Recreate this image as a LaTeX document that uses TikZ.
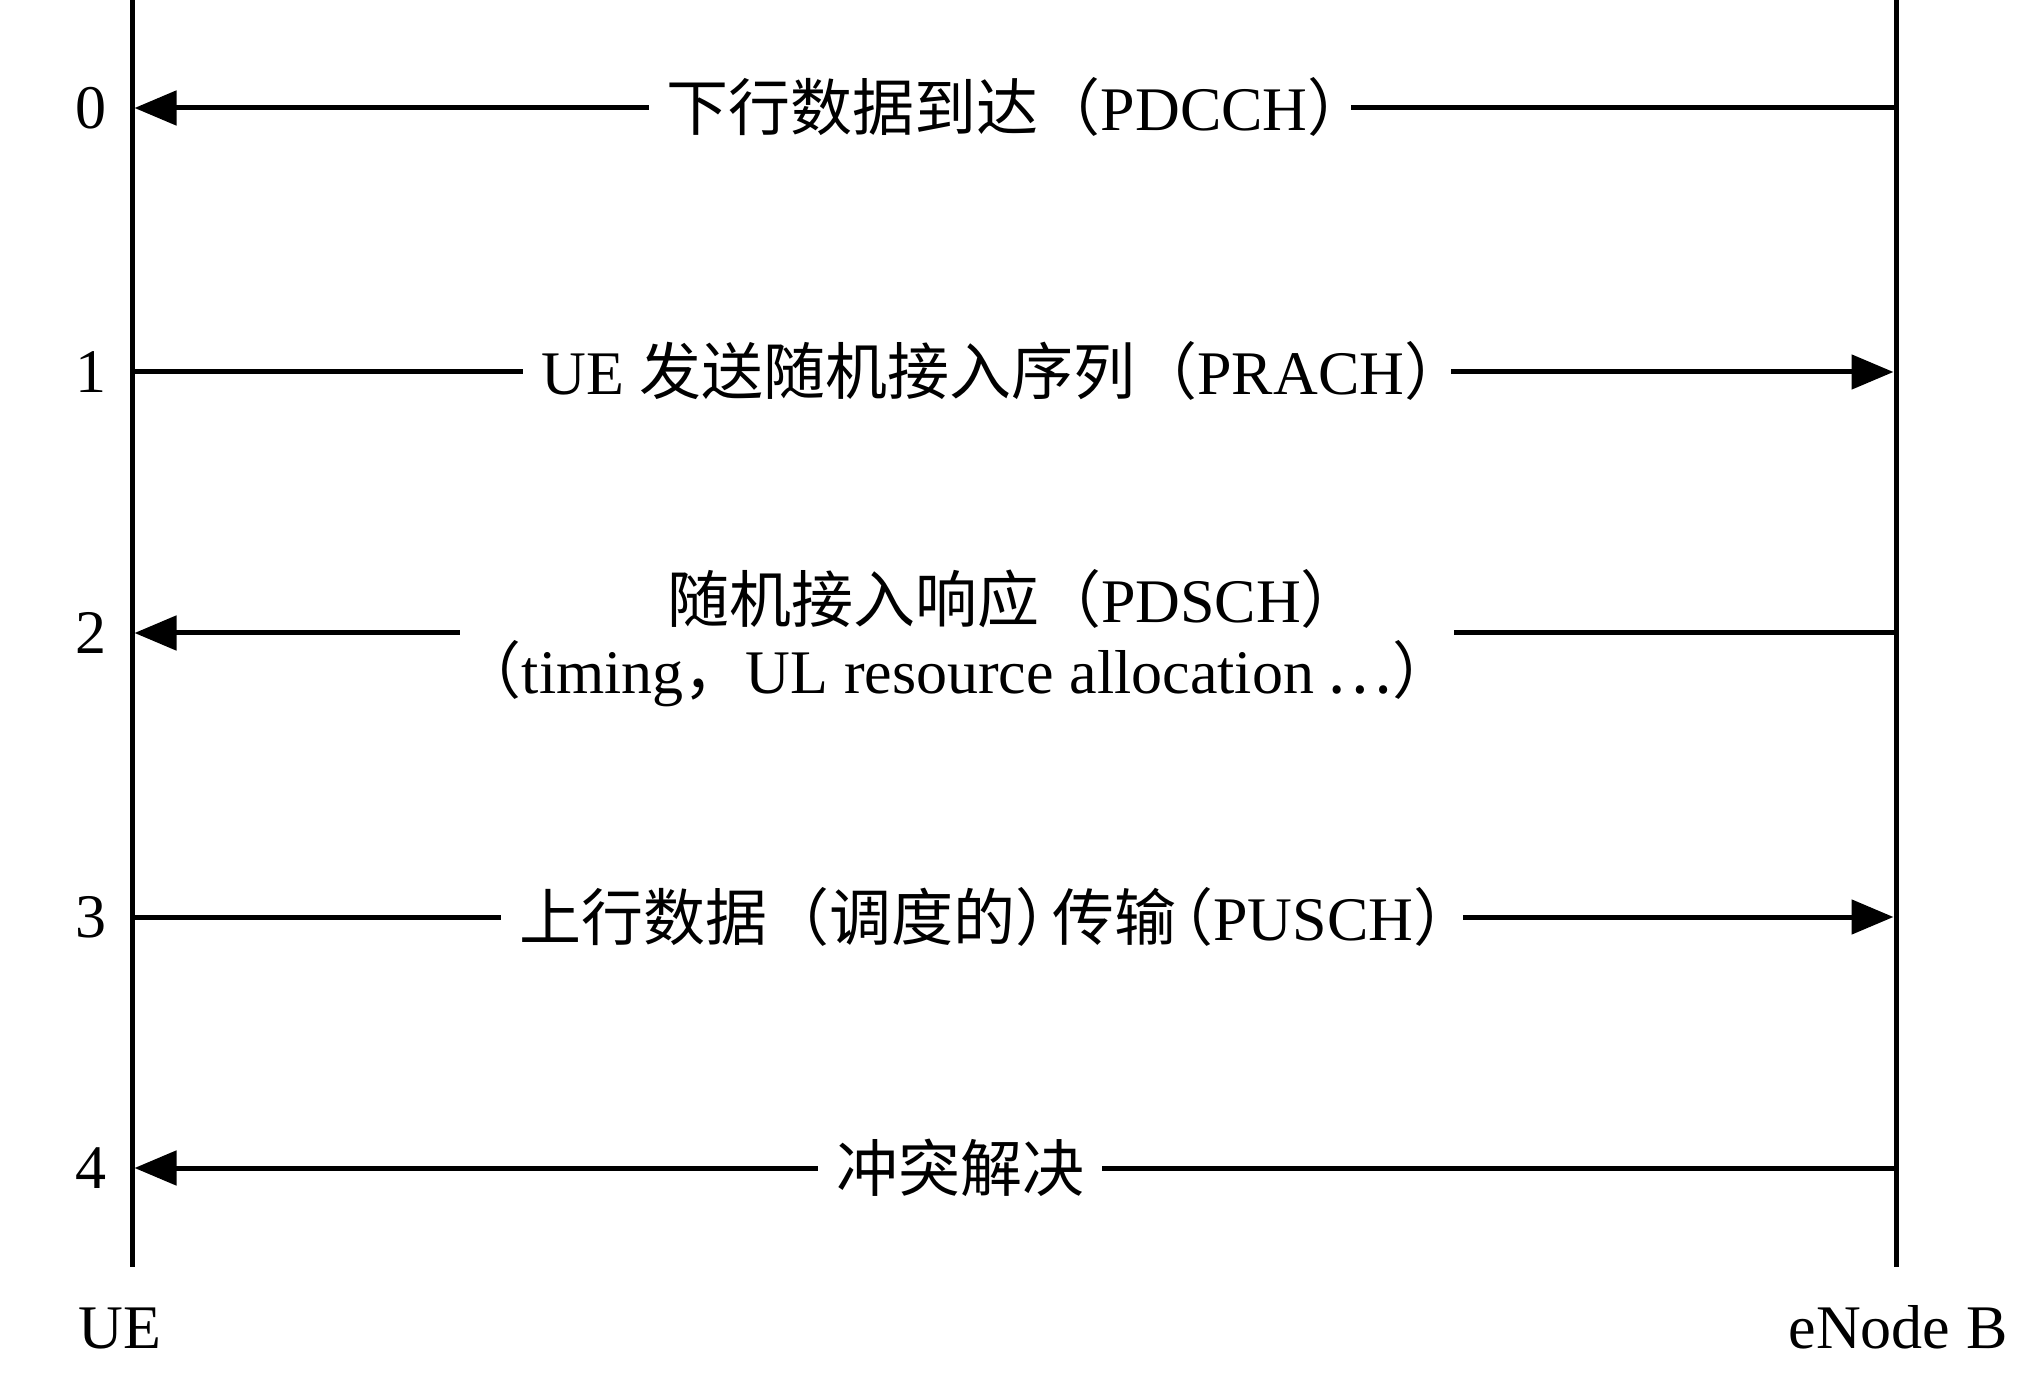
\documentclass[tikz,border=0pt]{standalone}
\usepackage{fontspec}
\setmainfont{Liberation Serif}
\newfontfamily\cjk{Noto Sans CJK SC}
\usetikzlibrary{arrows.meta}
\begin{document}
\begin{tikzpicture}[x=0.5pt,y=-0.5pt,
  life/.style={line width=2.5pt},
  msg/.style={line width=2.5pt},
  tip/.style={-{Triangle[length=21pt,width=17pt]}, shorten >=1.25pt},
  lab/.style={inner xsep=0pt, inner ysep=0pt, anchor=base, font=\fontsize{31pt}{37pt}\selectfont},
  num/.style={inner sep=0pt, font=\fontsize{31pt}{37pt}\selectfont}]
\useasboundingbox (0,0) rectangle (2026,1385);
% lifelines
\coordinate (ut) at (132,0);  \coordinate (ub) at (132,1267);
\coordinate (et) at (1896,0); \coordinate (eb) at (1896,1267);
\draw[life] (ut) -- (ub);
\draw[life] (et) -- (eb);
\node[lab] (ue)  at (120,1348) {UE};
\node[lab] (enb) at (1898,1348) {eNode B};
% message rows
\foreach \i/\y in {0/108,1/372,2/633,3/917,4/1168}{
  \coordinate (u\i) at (132,\y);
  \coordinate (e\i) at (1896,\y);
  \node[num] (n\i) at (91,\y) {\i};
}
% 0
\node[lab] (l0) at (1000,131) {\hspace*{9pt}{\cjk 下行数据到达（}PDCCH{\cjk ）}\kern-0.3em};
\draw[msg,tip] (l0.west |- u0) -- (u0);
\draw[msg] (e0) -- (l0.east |- e0);
% 1
\node[lab] (l1) at (987,395) {\hspace*{9pt}UE {\cjk 发送随机接入序列（}PRACH{\cjk ）}\kern-0.25em};
\draw[msg] (u1) -- (l1.west |- u1);
\draw[msg,tip] (l1.east |- e1) -- (e1);
% 2
\node[lab] (l2a) at (1015,623) {{\cjk 随机接入响应（}PDSCH{\cjk ）}};
\node[lab] (l2b) at (957,694) {{\cjk （}timing{\cjk ，}UL resource allocation\kern0.2em{\cjk …）}};
\draw[msg,tip] (l2b.west |- u2) -- (u2);
\draw[msg] (e2) -- (l2b.east |- e2);
% 3
\node[lab] (l3) at (982,940) {\hspace*{9pt}{\cjk 上行数据（调度的）\kern-0.4em 传输\kern-0.4em（}PUSCH{\cjk ）}\kern-0.2em};
\draw[msg] (u3) -- (l3.west |- u3);
\draw[msg,tip] (l3.east |- e3) -- (e3);
% 4
\node[lab] (l4) at (960,1191) {\hspace*{9pt}{\cjk 冲突解决}\hspace*{9pt}};
\draw[msg,tip] (l4.west |- u4) -- (u4);
\draw[msg] (e4) -- (l4.east |- e4);
\end{tikzpicture}
\end{document}
